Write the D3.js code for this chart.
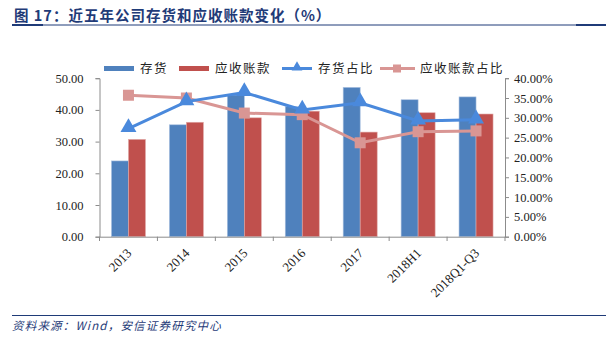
<!DOCTYPE html>
<html><head><meta charset="utf-8">
<script src="https://cdn.jsdelivr.net/npm/d3@7"></script>
<style>
body{margin:0;background:#fff;}
svg{display:block;}
</style></head>
<body><svg id="c" width="616" height="344"></svg>
<script>
const categories = ["2013","2014","2015","2016","2017","2018H1","2018Q1-Q3"];
const inventory = [23.9, 35.3, 44.7, 41.0, 47.1, 43.2, 44.1];
const receivables = [30.7, 36.1, 37.5, 39.6, 33.0, 39.1, 38.7];
const inventoryPct = [27.3, 34.1, 36.4, 32.0, 33.8, 29.2, 29.5];
const receivablesPct = [35.7, 35.0, 31.2, 30.8, 23.7, 26.5, 26.7];
const leftTicks = [0, 10, 20, 30, 40, 50];
const rightTicks = [0, 5, 10, 15, 20, 25, 30, 35, 40];
const seriesNames = ["存货", "应收账款", "存货占比", "应收账款占比"];
const titleText = "图 17：近五年公司存货和应收账款变化（%）";
const sourceText = "资料来源：Wind，安信证券研究中心";

const C = {blue:"#4f81bd", red:"#c0504d", lblue:"#4a89dc", pink:"#d99694", title:"#1f3b78", axis:"#8c8c8c"};
const svg = d3.select("#c");
const serif = "'Liberation Serif','Times New Roman',serif";
const cjk = "'Noto Sans CJK SC',sans-serif";

// title
svg.append("text").attr("x",14).attr("y",21).attr("fill",C.title)
  .attr("font-family",cjk).attr("font-weight","bold").attr("font-size",14.5)
  .attr("letter-spacing",1).text(titleText);
svg.append("line").attr("x1",12).attr("x2",606).attr("y1",25).attr("y2",25).attr("stroke",C.title).attr("stroke-width",1);
svg.append("rect").attr("x",12).attr("y",24).attr("width",31).attr("height",2).attr("fill",C.title);
svg.append("rect").attr("x",576).attr("y",24).attr("width",30).attr("height",2).attr("fill",C.title);

// footer
svg.append("line").attr("x1",12).attr("x2",606).attr("y1",315.5).attr("y2",315.5).attr("stroke",C.title).attr("stroke-width",1.2);
svg.append("text").attr("x",12).attr("y",330).attr("fill",C.title)
  .attr("font-family",cjk).attr("font-style","italic").attr("font-size",11.5)
  .attr("letter-spacing",1.2).text(sourceText);

// scales
const x0 = d3.scaleBand().domain(categories).range([99.5, 505]);
const y = d3.scaleLinear().domain([0,50]).range([236.7, 78.2]);
const yr = d3.scaleLinear().domain([0,40]).range([236.7, 78.2]);
const bw = 17;

// bars
const g = svg.append("g");
g.selectAll(".b1").data(categories).enter().append("rect")
  .attr("x",d=>x0(d)+x0.bandwidth()/2-bw).attr("width",bw)
  .attr("y",(d,i)=>y(inventory[i])).attr("height",(d,i)=>y(0)-y(inventory[i]))
  .attr("fill",C.blue).attr("stroke","#a9c0df").attr("stroke-width",0.6);
g.selectAll(".b2").data(categories).enter().append("rect")
  .attr("x",d=>x0(d)+x0.bandwidth()/2).attr("width",bw)
  .attr("y",(d,i)=>y(receivables[i])).attr("height",(d,i)=>y(0)-y(receivables[i]))
  .attr("fill",C.red).attr("stroke","#e0a9a7").attr("stroke-width",0.6);

// axes
const axL = svg.append("g").attr("transform","translate(99.5,0)")
  .call(d3.axisLeft(y).tickValues(leftTicks).tickFormat(d3.format(".2f")).tickSize(4).tickPadding(12));
const axR = svg.append("g").attr("transform","translate(505,0)")
  .call(d3.axisRight(yr).tickValues(rightTicks).tickFormat(d=>d.toFixed(2)+"%").tickSize(4).tickPadding(5));
const axB = svg.append("g").attr("transform","translate(0,236.7)")
  .call(d3.axisBottom(x0).tickSize(0).tickFormat(""));
[axL, axR, axB].forEach(a=>{
  a.selectAll("path,line").attr("stroke",C.axis);
  a.selectAll("text").attr("font-family",serif).attr("font-size",12.5).attr("fill","#222");
});
// category boundary ticks
const bounds = categories.map(d=>x0(d)).concat([505]);
svg.append("g").selectAll("line").data(bounds).enter().append("line")
  .attr("x1",d=>d).attr("x2",d=>d).attr("y1",236.7).attr("y2",241).attr("stroke",C.axis);
// x labels
svg.append("g").selectAll("text").data(categories).enter().append("text")
  .attr("transform",d=>`translate(${x0(d)+x0.bandwidth()/2+4},${254}) rotate(-45)`)
  .attr("text-anchor","end").attr("font-family",serif).attr("font-size",13).attr("fill","#222")
  .text(d=>d);

// lines
const cx = d=>x0(d)+x0.bandwidth()/2;
const line1 = d3.line().x((v,i)=>cx(categories[i])).y(v=>yr(v));
svg.append("path").attr("d",line1(receivablesPct)).attr("fill","none").attr("stroke",C.pink).attr("stroke-width",3);
svg.append("g").selectAll("rect").data(receivablesPct).enter().append("rect")
  .attr("x",(v,i)=>cx(categories[i])-5.5).attr("y",v=>yr(v)-5.5).attr("width",11).attr("height",11)
  .attr("fill",C.pink);
svg.append("path").attr("d",line1(inventoryPct)).attr("fill","none").attr("stroke",C.lblue).attr("stroke-width",3);
const tri = d3.symbol().type(d3.symbolTriangle).size(110);
svg.append("g").selectAll("path").data(inventoryPct).enter().append("path")
  .attr("d",tri).attr("transform",(v,i)=>`translate(${cx(categories[i])},${yr(v)-1})`)
  .attr("fill",C.lblue);

// legend
const lg = svg.append("g").attr("font-family",cjk).attr("font-size",12.5).attr("fill","#222");
lg.append("rect").attr("x",104).attr("y",66).attr("width",30).attr("height",5).attr("fill",C.blue);
lg.append("text").attr("x",140).attr("y",73).attr("letter-spacing",1.5).text(seriesNames[0]);
lg.append("rect").attr("x",179).attr("y",66).attr("width",30).attr("height",5).attr("fill",C.red);
lg.append("text").attr("x",215).attr("y",73).attr("letter-spacing",1.5).text(seriesNames[1]);
lg.append("line").attr("x1",282).attr("x2",312).attr("y1",68.5).attr("y2",68.5).attr("stroke",C.lblue).attr("stroke-width",3);
lg.append("path").attr("d",d3.symbol().type(d3.symbolTriangle).size(50)).attr("transform","translate(297,67.5)").attr("fill",C.lblue);
lg.append("text").attr("x",318).attr("y",73).attr("letter-spacing",1.5).text(seriesNames[2]);
lg.append("line").attr("x1",380).attr("x2",415).attr("y1",68.5).attr("y2",68.5).attr("stroke",C.pink).attr("stroke-width",3);
lg.append("rect").attr("x",393).attr("y",64.5).attr("width",8).attr("height",8).attr("fill",C.pink);
lg.append("text").attr("x",420).attr("y",73).attr("letter-spacing",1.5).text(seriesNames[3]);
</script></body></html>
